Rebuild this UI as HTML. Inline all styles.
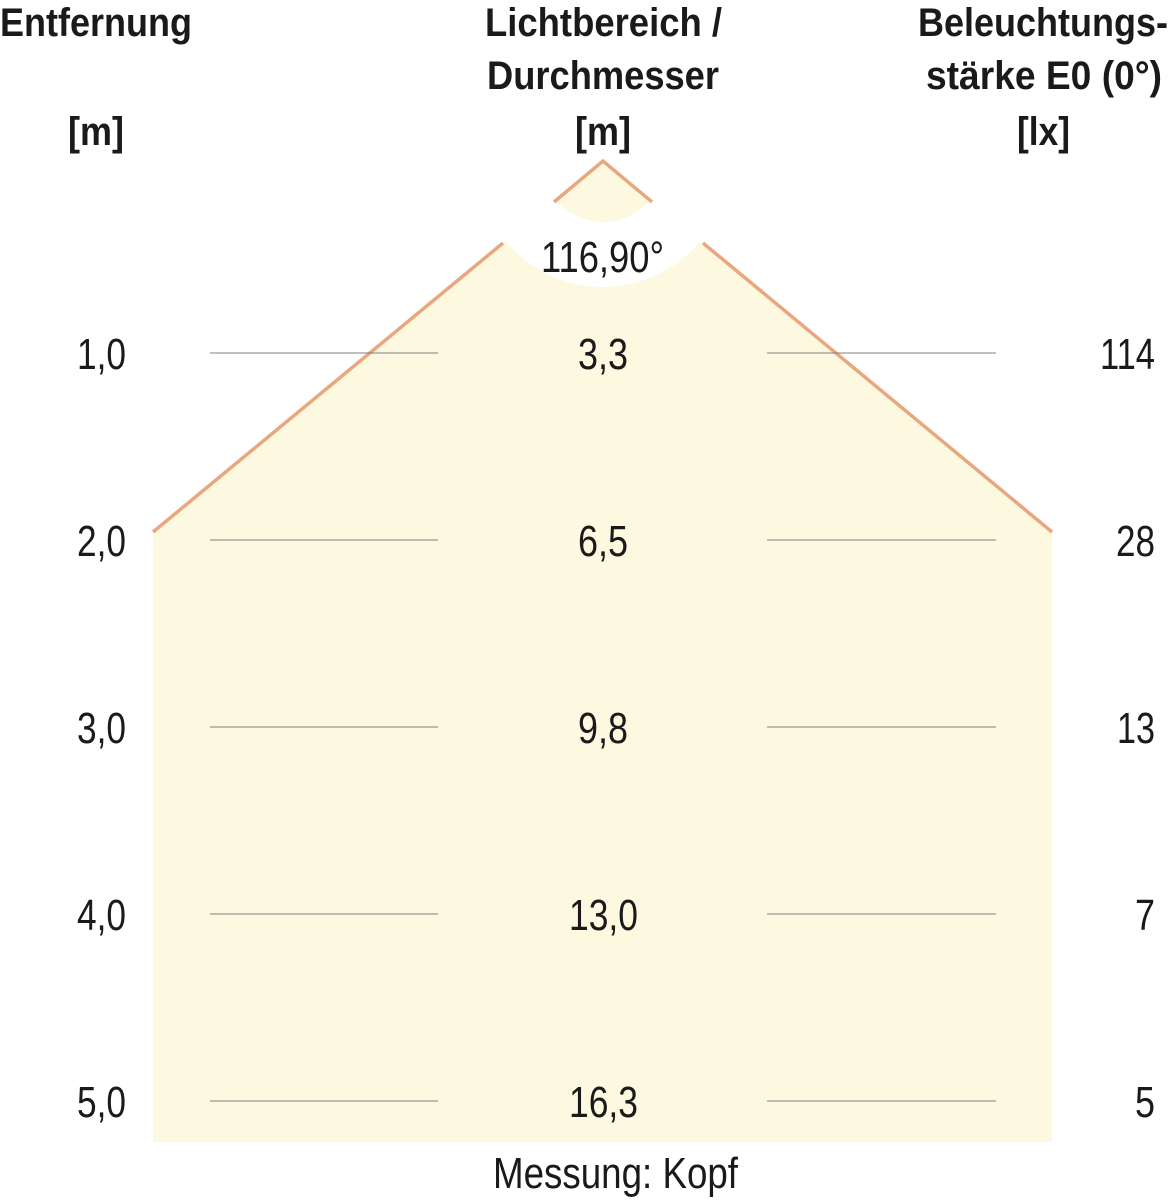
<!DOCTYPE html>
<html><head><meta charset="utf-8"><style>
html,body{margin:0;padding:0;background:#fff;}
svg{display:block;}
text{font-family:"Liberation Sans",Arial,sans-serif;fill:#1a1a1a;}
.h{font-weight:bold;font-size:40px;}
.n{font-size:44px;}
</style></head><body>
<svg width="1170" height="1200" viewBox="0 0 1170 1200" xmlns="http://www.w3.org/2000/svg">
<polygon points="603,161 1052,532 1052,1142 153,1142 153,532" fill="#fdf8e0"/>
<circle cx="603" cy="161" r="93.5" fill="none" stroke="#fff" stroke-width="65"/>
<g stroke="#e8a77f" stroke-width="3.5" fill="none">
<polyline points="554,202 603,161 652,202"/>
<line x1="503" y1="243" x2="153" y2="532"/>
<line x1="703" y1="243" x2="1052" y2="532"/>
</g>
<g stroke="#808080" stroke-width="1">
<line x1="210" y1="353" x2="438" y2="353"/><line x1="767" y1="353" x2="996" y2="353"/>
<line x1="210" y1="540" x2="438" y2="540"/><line x1="767" y1="540" x2="996" y2="540"/>
<line x1="210" y1="727" x2="438" y2="727"/><line x1="767" y1="727" x2="996" y2="727"/>
<line x1="210" y1="914" x2="438" y2="914"/><line x1="767" y1="914" x2="996" y2="914"/>
<line x1="210" y1="1101" x2="438" y2="1101"/><line x1="767" y1="1101" x2="996" y2="1101"/>
</g>
<g class="h">
<text x="0" y="36" textLength="192" lengthAdjust="spacingAndGlyphs">Entfernung</text>
<text x="68" y="145" textLength="56" lengthAdjust="spacingAndGlyphs">[m]</text>
<text x="485" y="36" textLength="237" lengthAdjust="spacingAndGlyphs">Lichtbereich /</text>
<text x="487" y="89" textLength="232" lengthAdjust="spacingAndGlyphs">Durchmesser</text>
<text x="575" y="145" textLength="56" lengthAdjust="spacingAndGlyphs">[m]</text>
<text x="918" y="36" textLength="250" lengthAdjust="spacingAndGlyphs">Beleuchtungs-</text>
<text x="926" y="89" textLength="236" lengthAdjust="spacingAndGlyphs">stärke E0 (0°)</text>
<text x="1017" y="145" textLength="53" lengthAdjust="spacingAndGlyphs">[lx]</text>
</g>
<g class="n">
<text x="541" y="272" textLength="123" lengthAdjust="spacingAndGlyphs">116,90°</text>
<text x="77" y="369" textLength="49" lengthAdjust="spacingAndGlyphs">1,0</text>
<text x="77" y="556" textLength="49" lengthAdjust="spacingAndGlyphs">2,0</text>
<text x="77" y="743" textLength="49" lengthAdjust="spacingAndGlyphs">3,0</text>
<text x="77" y="930" textLength="49" lengthAdjust="spacingAndGlyphs">4,0</text>
<text x="77" y="1117" textLength="49" lengthAdjust="spacingAndGlyphs">5,0</text>
<text x="578" y="369" textLength="50" lengthAdjust="spacingAndGlyphs">3,3</text>
<text x="578" y="556" textLength="50" lengthAdjust="spacingAndGlyphs">6,5</text>
<text x="578" y="743" textLength="50" lengthAdjust="spacingAndGlyphs">9,8</text>
<text x="569" y="930" textLength="69" lengthAdjust="spacingAndGlyphs">13,0</text>
<text x="569" y="1117" textLength="69" lengthAdjust="spacingAndGlyphs">16,3</text>
<text x="1100" y="369" textLength="55" lengthAdjust="spacingAndGlyphs">114</text>
<text x="1116" y="556" textLength="39" lengthAdjust="spacingAndGlyphs">28</text>
<text x="1117" y="743" textLength="38" lengthAdjust="spacingAndGlyphs">13</text>
<text x="1135" y="930" textLength="20" lengthAdjust="spacingAndGlyphs">7</text>
<text x="1135" y="1117" textLength="20" lengthAdjust="spacingAndGlyphs">5</text>
<text x="493" y="1188" textLength="245" lengthAdjust="spacingAndGlyphs">Messung: Kopf</text>
</g>
</svg>
</body></html>
